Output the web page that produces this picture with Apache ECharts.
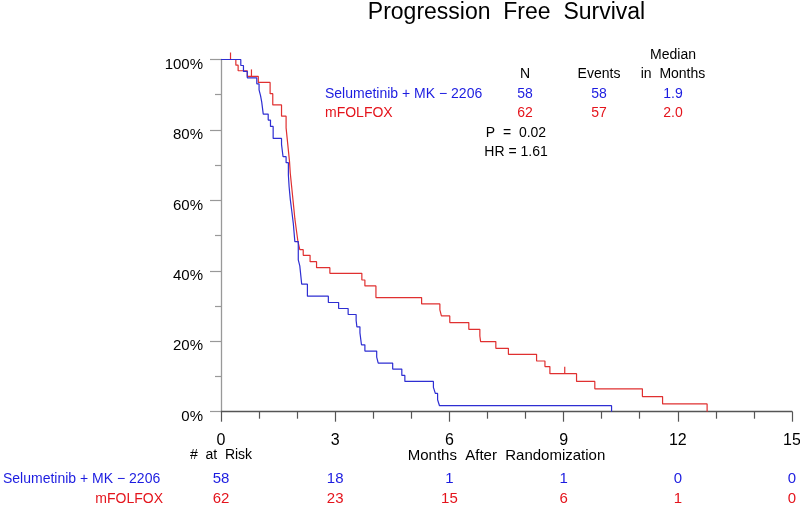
<!DOCTYPE html>
<html>
<head>
<meta charset="utf-8">
<script src="https://cdn.jsdelivr.net/npm/echarts@6/dist/echarts.min.js"></script>
<style>
html,body{margin:0;padding:0;background:#fff;}
#chart{width:800px;height:509px;}
</style>
</head>
<body>
<div id="chart"></div>
<script>
// ---- data ----
const groupNames = ['Selumetinib + MK \u2212 2206', 'mFOLFOX'];
const legendN = [58, 62];
const legendEvents = [58, 57];
const legendMedian = ['1.9', '2.0'];
const pValueText = 'P  =  0.02';
const hrText = 'HR = 1.61';

// Kaplan-Meier steps: time (months) and survival (%) after each drop
const seluTimes = [0, 0.52, 0.59, 0.69, 0.94, 1.00, 1.04, 1.07, 1.11, 1.24, 1.30, 1.37, 1.59, 1.63, 1.71, 1.77, 1.79, 1.82, 1.86, 1.90, 1.94, 2.03, 2.07, 2.12, 2.27, 2.82, 3.09, 3.34, 3.55, 3.57, 3.65, 3.69, 3.78, 4.09, 4.13, 4.51, 4.75, 4.83, 5.58, 5.63, 5.69, 5.74, 10.26];
const seluSurv  = [100, 98.3, 96.6, 94.8, 93.1, 91.4, 89.7, 87.9, 84.5, 82.8, 81.0, 77.6, 75.9, 72.4, 70.7, 67.2, 63.8, 60.3, 56.9, 53.4, 48.3, 43.1, 41.4, 36.2, 32.8, 31.0, 29.3, 27.6, 25.9, 24.1, 22.4, 19.0, 17.2, 15.5, 13.8, 12.1, 10.3, 8.6, 6.9, 5.2, 3.4, 1.7, 0];

const folfoxTimes = [0, 0.39, 0.45, 0.69, 0.98, 1.29, 1.36, 1.59, 1.71, 1.74, 1.77, 1.80, 1.82, 1.85, 1.88, 1.91, 1.94, 1.98, 2.02, 2.07, 2.16, 2.34, 2.51, 2.86, 3.70, 3.78, 4.07, 5.27, 5.75, 5.79, 6.01, 6.51, 6.80, 6.82, 7.22, 7.55, 8.29, 8.51, 8.64, 9.34, 9.82, 11.07, 11.60, 12.77];
const folfoxSurv  = [100, 98.4, 96.8, 95.2, 93.5, 90.3, 87.1, 83.9, 80.6, 77.4, 74.2, 71.0, 67.7, 64.5, 61.3, 58.1, 54.8, 51.6, 48.4, 46.0, 44.4, 42.6, 40.9, 39.3, 37.4, 35.7, 32.4, 30.6, 28.9, 27.2, 25.3, 23.4, 21.5, 19.9, 18.0, 16.3, 14.4, 12.8, 10.8, 8.6, 6.5, 4.3, 2.2, 0];

// censored observations (FOLFOX arm)
const folfoxCensorTimes = [0.25, 0.80, 9.03];
const folfoxCensorSurv  = [100, 95.2, 10.8];

// number at risk at x ticks
const riskTicks = [0, 3, 6, 9, 12, 15];
const riskSelu = [58, 18, 1, 1, 0, 0];
const riskFolfox = [62, 23, 15, 6, 1, 0];

// ---- styles ----
const FONT = '"Liberation Sans", Arial, Helvetica, sans-serif';
const BLUE_TXT = '#1c1ce0';
const RED_TXT = '#e4141c';
const BLUE_LINE = '#2e2ed2';
const RED_LINE = '#e03030';

const zip = (a, b) => a.map((v, i) => [v, b[i]]);

const chart = echarts.init(document.getElementById('chart'), null, {renderer: 'canvas'});

function txt(text, x, y, color, size, align) {
  return {
    type: 'text', x: x, y: y, silent: true,
    style: {
      text: text, fill: color, font: size + 'px ' + FONT,
      align: align, verticalAlign: 'middle'
    }
  };
}

const colN = 525, colE = 599, colM = 673;
const graphics = [
  txt('Progression  Free  Survival', 506.5, 13, '#000', 23, 'center'),
  txt('Median', colM, 55, '#000', 14, 'center'),
  txt('N', colN, 74, '#000', 14, 'center'),
  txt('Events', colE, 74, '#000', 14, 'center'),
  txt('in  Months', colM, 74, '#000', 14, 'center'),
  txt(groupNames[0], 325, 94, BLUE_TXT, 14, 'left'),
  txt(String(legendN[0]), colN, 94, BLUE_TXT, 14, 'center'),
  txt(String(legendEvents[0]), colE, 94, BLUE_TXT, 14, 'center'),
  txt(legendMedian[0], colM, 94, BLUE_TXT, 14, 'center'),
  txt(groupNames[1], 325, 113, RED_TXT, 14, 'left'),
  txt(String(legendN[1]), colN, 113, RED_TXT, 14, 'center'),
  txt(String(legendEvents[1]), colE, 113, RED_TXT, 14, 'center'),
  txt(legendMedian[1], colM, 113, RED_TXT, 14, 'center'),
  txt(pValueText, 516, 133, '#000', 14, 'center'),
  txt(hrText, 516, 152.5, '#000', 14, 'center'),
  txt('#  at  Risk', 221, 455, '#000', 14, 'center'),
  txt(groupNames[0], 3, 479, BLUE_TXT, 14, 'left'),
  txt(groupNames[1], 163, 499, RED_TXT, 14, 'right')
];

function riskAxis(offset, arr, color) {
  return {
    type: 'value', position: 'bottom', offset: offset,
    min: 0, max: 15, interval: 3,
    axisLine: {show: false}, axisTick: {show: false}, splitLine: {show: false},
    axisLabel: {
      margin: 8, color: color, fontSize: 15, fontFamily: FONT,
      formatter: v => String(arr[riskTicks.indexOf(v)])
    }
  };
}

const option = {
  animation: false,
  backgroundColor: '#fff',
  grid: {left: 221, right: 8, top: 59.5, bottom: 97.3, containLabel: false, outerBoundsMode: 'none'},
  graphic: graphics,
  xAxis: [
    {
      type: 'value', min: 0, max: 15, interval: 3,
      axisLine: {show: true, lineStyle: {color: '#555', width: 1.3}},
      axisTick: {show: true, length: 10, lineStyle: {color: '#555', width: 1.2}},
      minorTick: {show: true, splitNumber: 3, length: 7, lineStyle: {color: '#555', width: 1.2}},
      splitLine: {show: false},
      minorSplitLine: {show: false},
      axisLabel: {margin: 21, color: '#000', fontSize: 16, fontFamily: FONT},
      name: 'Months  After  Randomization', nameLocation: 'middle', nameGap: 37,
      nameMoveOverlap: false,
      nameTextStyle: {color: '#000', fontSize: 15, fontFamily: FONT}
    },
    riskAxis(52, riskSelu, BLUE_TXT),
    riskAxis(72, riskFolfox, RED_TXT)
  ],
  yAxis: {
    type: 'value', min: 0, max: 100, interval: 20,
    axisLine: {show: true, lineStyle: {color: '#999', width: 1.3}},
    axisTick: {show: true, length: 11, lineStyle: {color: '#999', width: 1.2}},
    minorTick: {show: true, splitNumber: 2, length: 6, lineStyle: {color: '#999', width: 1.2}},
    splitLine: {show: false},
    minorSplitLine: {show: false},
    axisLabel: {margin: 18, color: '#000', fontSize: 15, fontFamily: FONT,
      formatter: '{value}%', verticalAlign: 'top', lineHeight: 10}
  },
  series: [
    {
      name: groupNames[1], type: 'line', step: 'end', showSymbol: false, symbol: 'none',
      data: zip(folfoxTimes, folfoxSurv), xAxisIndex: 0,
      lineStyle: {color: RED_LINE, width: 1.2}, clip: false, z: 2
    },
    {
      name: groupNames[0], type: 'line', step: 'end', showSymbol: false, symbol: 'none',
      data: zip(seluTimes, seluSurv), xAxisIndex: 0,
      lineStyle: {color: BLUE_LINE, width: 1.2}, clip: false, z: 3
    },
    {
      name: 'censor', type: 'custom', xAxisIndex: 0,
      data: zip(folfoxCensorTimes, folfoxCensorSurv),
      clip: false, z: 2,
      renderItem: (params, api) => {
        const p = api.coord([api.value(0), api.value(1)]);
        return {
          type: 'line',
          shape: {x1: p[0], y1: p[1], x2: p[0], y2: p[1] - 7},
          style: {stroke: RED_LINE, lineWidth: 1.2}
        };
      }
    }
  ]
};
chart.setOption(option);
</script>
</body>
</html>
